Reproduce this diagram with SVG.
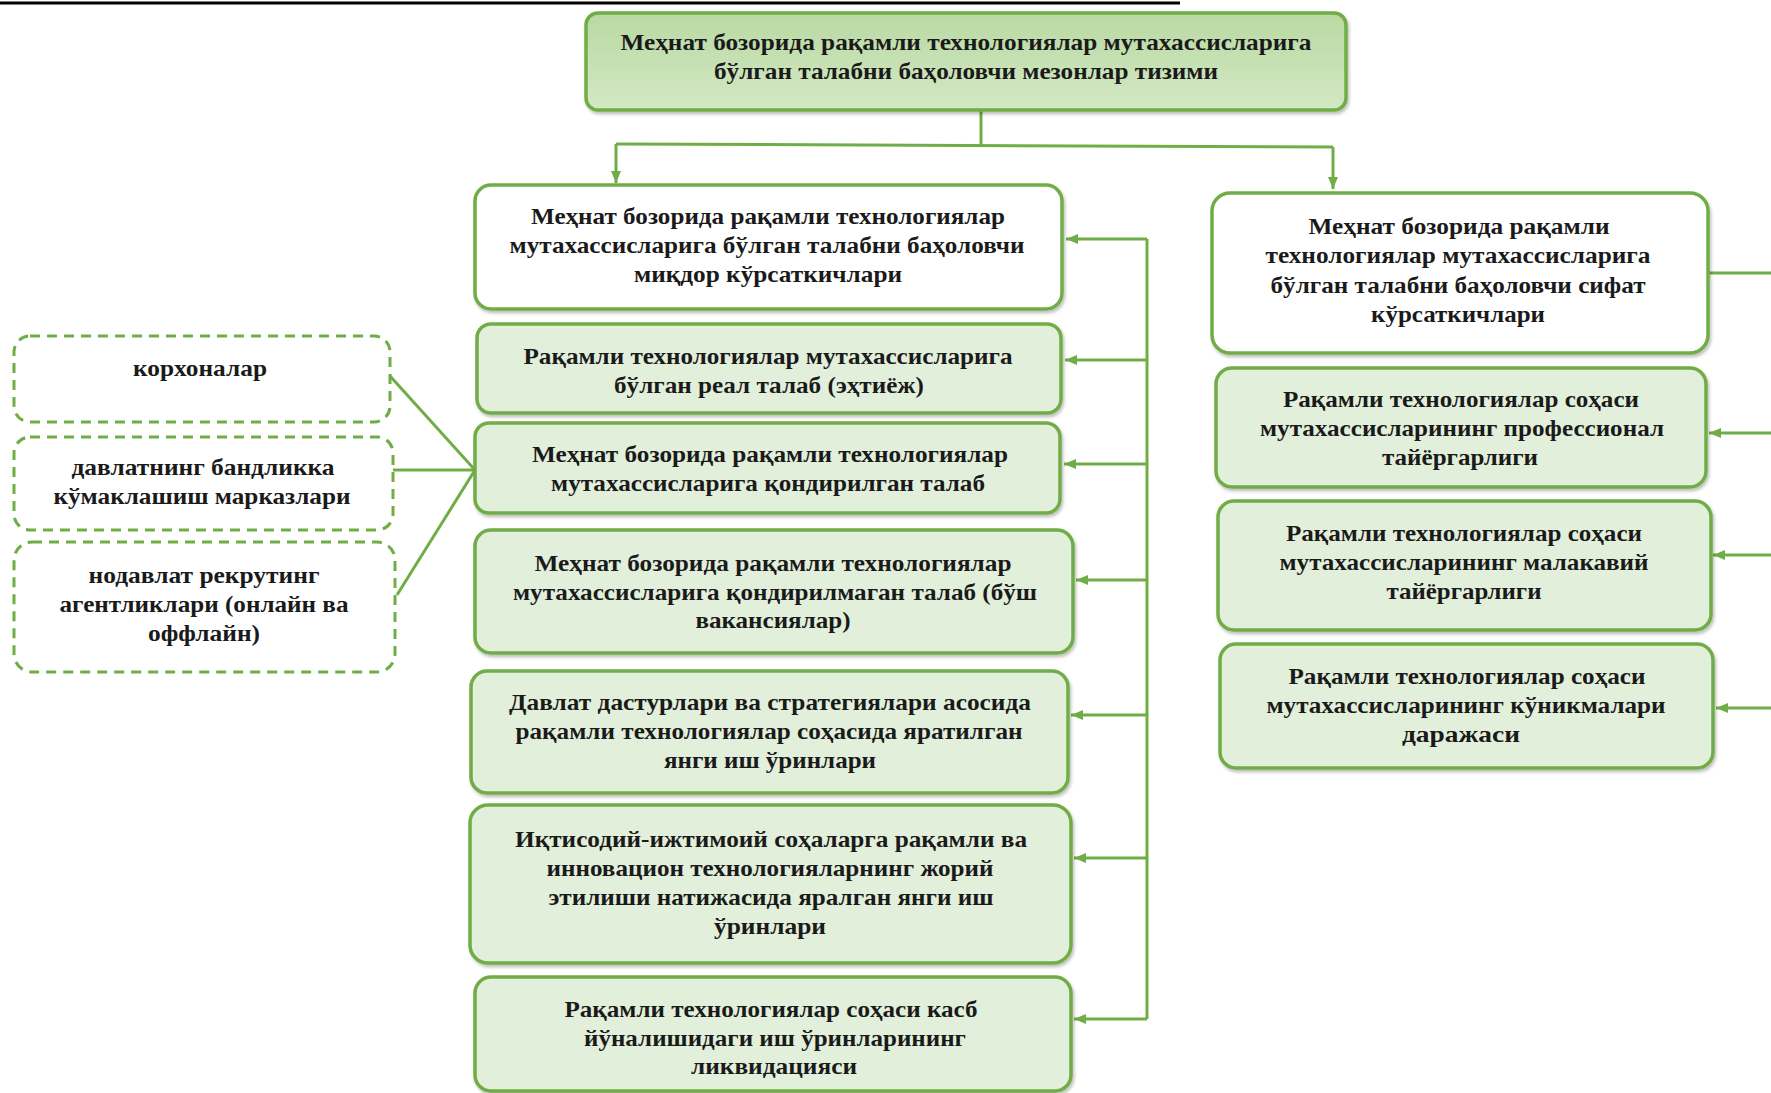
<svg xmlns="http://www.w3.org/2000/svg" width="1771" height="1093" viewBox="0 0 1771 1093">
<defs>
<linearGradient id="gTop" x1="0" y1="0" x2="0" y2="1">
<stop offset="0" stop-color="#b9d9a2"/>
<stop offset="1" stop-color="#d3e8c4"/>
</linearGradient>
<filter id="sh" x="-5%" y="-5%" width="110%" height="115%">
<feDropShadow dx="1.5" dy="2.5" stdDeviation="1.5" flood-color="#000" flood-opacity="0.25"/>
</filter>
<marker id="ah" viewBox="0 0 12 10" refX="12" refY="5" markerWidth="12" markerHeight="10" markerUnits="userSpaceOnUse" orient="auto">
<path d="M0,0 L12,5 L0,10 z" fill="#70ad47"/>
</marker>
<style>
.box{fill:#e2efda;stroke:#70ad47;stroke-width:3.5;filter:url(#sh)}
.wbox{fill:#ffffff;stroke:#70ad47;stroke-width:3.5;filter:url(#sh)}
.top{fill:url(#gTop);stroke:#70ad47;stroke-width:3.5;filter:url(#sh)}
.dbox{fill:#ffffff;stroke:#70ad47;stroke-width:3;stroke-dasharray:10 7}
.t{font-family:"Liberation Serif","Times New Roman",serif;font-weight:bold;font-size:22.5px;fill:#1a1a1a;text-anchor:middle}
.c{fill:none;stroke:#70ad47;stroke-width:3}
</style>
</defs>
<rect width="1771" height="1093" fill="#ffffff"/>
<line x1="0" y1="3" x2="1180" y2="3" stroke="#000" stroke-width="3"/>

<g id="connectors">
<path class="c" d="M981,110 V145"/>
<path class="c" d="M616,144 L1333,147"/>
<path class="c" d="M616,144 V183" marker-end="url(#ah)"/>
<path class="c" d="M1333,147 V189" marker-end="url(#ah)"/>
<path class="c" d="M1147,239 V1019"/>
<path class="c" d="M1147,239 H1066" marker-end="url(#ah)"/>
<path class="c" d="M1147,360 H1065" marker-end="url(#ah)"/>
<path class="c" d="M1147,464 H1064" marker-end="url(#ah)"/>
<path class="c" d="M1147,580 H1076" marker-end="url(#ah)"/>
<path class="c" d="M1147,715 H1071" marker-end="url(#ah)"/>
<path class="c" d="M1147,858 H1074" marker-end="url(#ah)"/>
<path class="c" d="M1147,1019 H1074" marker-end="url(#ah)"/>
<path class="c" d="M1708,273 H1771"/>
<path class="c" d="M1771,433 H1709" marker-end="url(#ah)"/>
<path class="c" d="M1771,555 H1713" marker-end="url(#ah)"/>
<path class="c" d="M1771,708 H1716" marker-end="url(#ah)"/>
<path class="c" d="M390,376 L475,470"/>
<path class="c" d="M393,470 H475"/>
<path class="c" d="M397,595 L475,470"/>
</g>

<g id="n-top">
<rect class="top" x="586" y="13" width="760" height="97" rx="12"/>
<text class="t" x="966" y="50" textLength="691" lengthAdjust="spacingAndGlyphs">Меҳнат бозорида рақамли технологиялар мутахассисларига</text>
<text class="t" x="966" y="79" textLength="504" lengthAdjust="spacingAndGlyphs">бўлган талабни баҳоловчи мезонлар тизими</text>
</g>

<g id="n-quant">
<rect class="wbox" x="475" y="185" width="587" height="124" rx="16"/>
<text class="t" x="768" y="224" textLength="474" lengthAdjust="spacingAndGlyphs">Меҳнат бозорида рақамли технологиялар</text>
<text class="t" x="767" y="253" textLength="515" lengthAdjust="spacingAndGlyphs">мутахассисларига бўлган талабни баҳоловчи</text>
<text class="t" x="768" y="282" textLength="268" lengthAdjust="spacingAndGlyphs">миқдор кўрсаткичлари</text>
</g>

<g id="n-real">
<rect class="box" x="477" y="324" width="584" height="89" rx="14"/>
<text class="t" x="768" y="364" textLength="489" lengthAdjust="spacingAndGlyphs">Рақамли технологиялар мутахассисларига</text>
<text class="t" x="769" y="393" textLength="310" lengthAdjust="spacingAndGlyphs">бўлган реал талаб (эҳтиёж)</text>
</g>

<g id="n-satisfied">
<rect class="box" x="475" y="423" width="585" height="90" rx="14"/>
<text class="t" x="770" y="462" textLength="476" lengthAdjust="spacingAndGlyphs">Меҳнат бозорида рақамли технологиялар</text>
<text class="t" x="768" y="491" textLength="434" lengthAdjust="spacingAndGlyphs">мутахассисларига қондирилган талаб</text>
</g>

<g id="n-unsatisfied">
<rect class="box" x="475" y="530" width="598" height="123" rx="16"/>
<text class="t" x="773" y="571" textLength="477" lengthAdjust="spacingAndGlyphs">Меҳнат бозорида рақамли технологиялар</text>
<text class="t" x="775" y="600" textLength="524" lengthAdjust="spacingAndGlyphs">мутахассисларига қондирилмаган талаб (бўш</text>
<text class="t" x="773" y="628" textLength="155" lengthAdjust="spacingAndGlyphs">вакансиялар)</text>
</g>

<g id="n-state">
<rect class="box" x="471" y="671" width="597" height="122" rx="16"/>
<text class="t" x="770" y="710" textLength="522" lengthAdjust="spacingAndGlyphs">Давлат дастурлари ва стратегиялари асосида</text>
<text class="t" x="769" y="739" textLength="507" lengthAdjust="spacingAndGlyphs">рақамли технологиялар соҳасида яратилган</text>
<text class="t" x="770" y="768" textLength="212" lengthAdjust="spacingAndGlyphs">янги иш ўринлари</text>
</g>

<g id="n-innov">
<rect class="box" x="470" y="805" width="601" height="158" rx="18"/>
<text class="t" x="771" y="847" textLength="512" lengthAdjust="spacingAndGlyphs">Иқтисодий-ижтимоий соҳаларга рақамли ва</text>
<text class="t" x="770" y="876" textLength="447" lengthAdjust="spacingAndGlyphs">инновацион технологияларнинг жорий</text>
<text class="t" x="771" y="905" textLength="445" lengthAdjust="spacingAndGlyphs">этилиши натижасида яралган янги иш</text>
<text class="t" x="770" y="934" textLength="112" lengthAdjust="spacingAndGlyphs">ўринлари</text>
</g>

<g id="n-liquid">
<rect class="box" x="475" y="977" width="596" height="114" rx="16"/>
<text class="t" x="771" y="1017" textLength="413" lengthAdjust="spacingAndGlyphs">Рақамли технологиялар соҳаси касб</text>
<text class="t" x="775" y="1046" textLength="382" lengthAdjust="spacingAndGlyphs">йўналишидаги иш ўринларининг</text>
<text class="t" x="774" y="1074" textLength="166" lengthAdjust="spacingAndGlyphs">ликвидацияси</text>
</g>

<g id="n-qual">
<rect class="wbox" x="1212" y="193" width="496" height="160" rx="18"/>
<text class="t" x="1459" y="234" textLength="301" lengthAdjust="spacingAndGlyphs">Меҳнат бозорида рақамли</text>
<text class="t" x="1458" y="263" textLength="385" lengthAdjust="spacingAndGlyphs">технологиялар  мутахассисларига</text>
<text class="t" x="1458" y="293" textLength="375" lengthAdjust="spacingAndGlyphs">бўлган талабни баҳоловчи сифат</text>
<text class="t" x="1458" y="322" textLength="174" lengthAdjust="spacingAndGlyphs">кўрсаткичлари</text>
</g>

<g id="n-prof">
<rect class="box" x="1216" y="368" width="490" height="119" rx="16"/>
<text class="t" x="1461" y="407" textLength="356" lengthAdjust="spacingAndGlyphs">Рақамли технологиялар соҳаси</text>
<text class="t" x="1462" y="436" textLength="404" lengthAdjust="spacingAndGlyphs">мутахассисларининг профессионал</text>
<text class="t" x="1460" y="465" textLength="156" lengthAdjust="spacingAndGlyphs">тайёргарлиги</text>
</g>

<g id="n-skill">
<rect class="box" x="1218" y="501" width="493" height="129" rx="16"/>
<text class="t" x="1464" y="541" textLength="356" lengthAdjust="spacingAndGlyphs">Рақамли технологиялар соҳаси</text>
<text class="t" x="1464" y="570" textLength="369" lengthAdjust="spacingAndGlyphs">мутахассисларининг малакавий</text>
<text class="t" x="1464" y="599" textLength="155" lengthAdjust="spacingAndGlyphs">тайёргарлиги</text>
</g>

<g id="n-habits">
<rect class="box" x="1220" y="644" width="493" height="124" rx="16"/>
<text class="t" x="1467" y="684" textLength="357" lengthAdjust="spacingAndGlyphs">Рақамли технологиялар соҳаси</text>
<text class="t" x="1466" y="713" textLength="399" lengthAdjust="spacingAndGlyphs">мутахассисларининг кўникмалари</text>
<text class="t" x="1461" y="742" textLength="118" lengthAdjust="spacingAndGlyphs">даражаси</text>
</g>

<g id="n-enterprises">
<rect class="dbox" x="14" y="336" width="376" height="86" rx="16"/>
<text class="t" x="200" y="376" textLength="134" lengthAdjust="spacingAndGlyphs">корхоналар</text>
</g>

<g id="n-state-centers">
<rect class="dbox" x="14" y="437" width="379" height="93" rx="16"/>
<text class="t" x="203" y="475" textLength="263" lengthAdjust="spacingAndGlyphs">давлатнинг бандликка</text>
<text class="t" x="202" y="504" textLength="297" lengthAdjust="spacingAndGlyphs">кўмаклашиш марказлари</text>
</g>

<g id="n-agencies">
<rect class="dbox" x="14" y="542" width="381" height="130" rx="18"/>
<text class="t" x="204" y="583" textLength="231" lengthAdjust="spacingAndGlyphs">нодавлат рекрутинг</text>
<text class="t" x="204" y="612" textLength="289" lengthAdjust="spacingAndGlyphs">агентликлари (онлайн ва</text>
<text class="t" x="204" y="641" textLength="112" lengthAdjust="spacingAndGlyphs">оффлайн)</text>
</g>
</svg>
